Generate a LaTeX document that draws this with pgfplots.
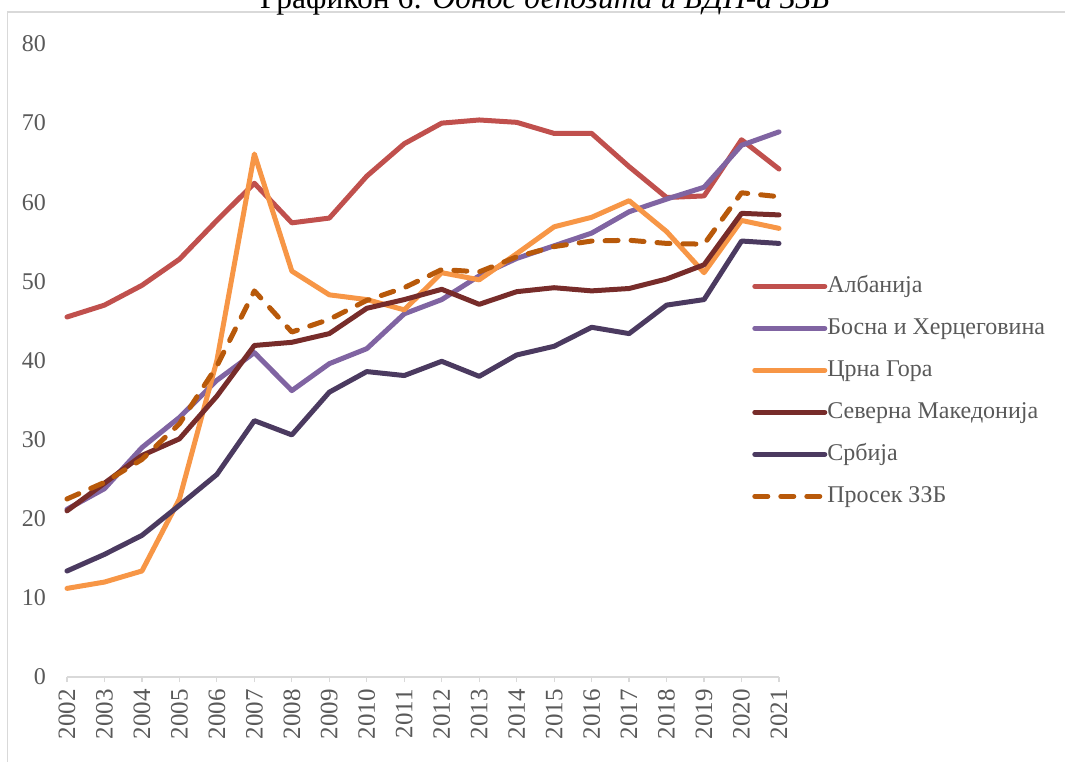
\documentclass[border=0pt]{standalone}
\usepackage{fontspec}
\setmainfont{Liberation Serif}
\usepackage{pgfplots}
\pgfplotsset{compat=1.18}
\definecolor{cAL}{HTML}{C0504D}
\definecolor{cBA}{HTML}{8064A2}
\definecolor{cME}{HTML}{F79646}
\definecolor{cMK}{HTML}{772C2A}
\definecolor{cRS}{HTML}{4B3A60}
\definecolor{cAV}{HTML}{B8590A}
\definecolor{txt}{HTML}{595959}
\definecolor{frm}{HTML}{D9D9D9}
\begin{document}
\begin{tikzpicture}[x=1pt,y=1pt]
\useasboundingbox (0,0) rectangle (1065,-761);
\clip (0,0) rectangle (1065,-761);
\draw[frm, line width=1.5pt] (7.5,-770) -- (7.5,-12) -- (1080,-12);
\node[anchor=base, font=\fontsize{31.5}{36}\selectfont, inner sep=0pt] at (545,-8) {Графикон 6: \textit{Однос депозита и БДП-а ЗЗБ}};
\begin{axis}[
  at={(67pt,-677pt)}, anchor=south west,
  scale only axis, width=712pt, height=633pt,
  xmin=2002, xmax=2021, ymin=0, ymax=80,
  axis x line*=bottom, axis y line=none,
  axis line style={frm, line width=1.5pt},
  xtick={2002,...,2021}, ytick={0,10,...,80},
  x tick label style={/pgf/number format/1000 sep={}},
  /pgf/number format/assume math mode=true,
  tick style={frm, line width=1.2pt},
  major tick length=5pt, tick align=outside,
  xticklabel style={rotate=90, anchor=east, inner sep=0pt, text=txt, font=\fontsize{25}{29}\selectfont},
  xticklabel shift=7pt,
  clip=false,
  legend style={draw=none, fill=none, at={(0.958,0.638)}, anchor=north west,
    font=\fontsize{24}{28}\selectfont, text=txt, row sep=20pt,
    nodes={inner sep=0pt, text height=17pt, text depth=5pt},
    /tikz/every even column/.style={column sep=11pt}},
  legend cell align=left,
  legend image code/.code={\draw[#1] (0pt,0pt) -- (70pt,0pt);},
  every axis plot/.append style={line width=5pt, line join=round, line cap=round},
]
\pgfplotsinvokeforeach{0,10,...,80}{\node[anchor=east, inner sep=0pt, text=txt, font=\fontsize{24}{28}\selectfont] at (axis cs:2002,#1) [xshift=-21pt] {#1};}
\addplot[cAL] coordinates {(2002,45.5)(2003,47.0)(2004,49.5)(2005,52.8)(2006,57.7)(2007,62.4)(2008,57.4)(2009,58.0)(2010,63.3)(2011,67.4)(2012,70.0)(2013,70.4)(2014,70.1)(2015,68.7)(2016,68.7)(2017,64.5)(2018,60.6)(2019,60.8)(2020,67.9)(2021,64.2)};
\addlegendentry{Албанија}
\addplot[cBA] coordinates {(2002,21.2)(2003,23.8)(2004,29.0)(2005,32.8)(2006,37.5)(2007,41.0)(2008,36.2)(2009,39.6)(2010,41.5)(2011,45.9)(2012,47.7)(2013,50.7)(2014,52.9)(2015,54.5)(2016,56.1)(2017,58.8)(2018,60.4)(2019,61.9)(2020,67.2)(2021,68.9)};
\addlegendentry{Босна и Херцеговина}
\addplot[cME] coordinates {(2002,11.2)(2003,12.0)(2004,13.4)(2005,22.5)(2006,40.0)(2007,66.1)(2008,51.3)(2009,48.3)(2010,47.7)(2011,46.4)(2012,51.1)(2013,50.2)(2014,53.5)(2015,56.9)(2016,58.1)(2017,60.2)(2018,56.3)(2019,51.1)(2020,57.7)(2021,56.7)};
\addlegendentry{Црна Гора}
\addplot[cMK] coordinates {(2002,21.0)(2003,24.5)(2004,28.0)(2005,30.1)(2006,35.5)(2007,41.9)(2008,42.3)(2009,43.4)(2010,46.6)(2011,47.7)(2012,49.0)(2013,47.1)(2014,48.7)(2015,49.2)(2016,48.8)(2017,49.1)(2018,50.3)(2019,52.1)(2020,58.6)(2021,58.4)};
\addlegendentry{Северна Македонија}
\addplot[cRS] coordinates {(2002,13.4)(2003,15.5)(2004,17.9)(2005,21.7)(2006,25.6)(2007,32.4)(2008,30.6)(2009,36.0)(2010,38.6)(2011,38.1)(2012,39.9)(2013,38.0)(2014,40.7)(2015,41.8)(2016,44.2)(2017,43.4)(2018,47.0)(2019,47.7)(2020,55.1)(2021,54.8)};
\addlegendentry{Србија}
\addplot[cAV, dash pattern=on 13pt off 13pt] coordinates {(2002,22.5)(2003,24.6)(2004,27.5)(2005,32.0)(2006,39.3)(2007,48.8)(2008,43.6)(2009,45.2)(2010,47.6)(2011,49.2)(2012,51.5)(2013,51.2)(2014,53.1)(2015,54.4)(2016,55.1)(2017,55.2)(2018,54.8)(2019,54.7)(2020,61.2)(2021,60.7)};
\addlegendentry{Просек ЗЗБ}
\end{axis}
\end{tikzpicture}
\end{document}
